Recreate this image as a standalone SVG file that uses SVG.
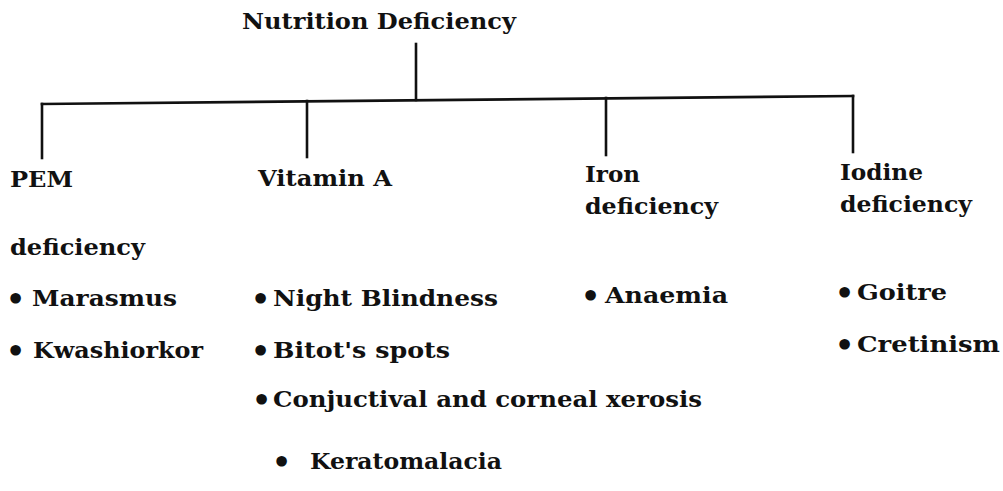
<svg xmlns="http://www.w3.org/2000/svg" width="1003" height="491" viewBox="0 0 1003 491">
<style>
.t{font-family:"DejaVu Serif","Liberation Serif",serif;font-size:23px;font-weight:bold;fill:#111}
.b{font-size:30px}
.ln{stroke:#111;stroke-width:2.6;fill:none;stroke-linecap:square}
</style>
<rect width="1003" height="491" fill="#fff"/>
<g id="connectors">
<line class="ln" x1="416" y1="44" x2="416" y2="100"/>
<line class="ln" x1="42" y1="104" x2="853" y2="96"/>
<line class="ln" x1="42" y1="104" x2="42" y2="158"/>
<line class="ln" x1="307" y1="101" x2="307" y2="157"/>
<line class="ln" x1="606" y1="98" x2="606" y2="155"/>
<line class="ln" x1="853" y1="96" x2="853" y2="152"/>
</g>
<g id="root"><text class="t" x="242" y="29" textLength="274" lengthAdjust="spacingAndGlyphs">Nutrition Deficiency</text></g>
<g id="pem">
<text class="t" x="10" y="187" textLength="63" lengthAdjust="spacingAndGlyphs">PEM</text>
<text class="t" x="10" y="255" textLength="135" lengthAdjust="spacingAndGlyphs">deficiency</text>
<text class="t" x="6" y="306"><tspan class="b" dy="3">•</tspan><tspan x="32" dy="-3" textLength="145" lengthAdjust="spacingAndGlyphs">Marasmus</tspan></text>
<text class="t" x="6" y="358"><tspan class="b" dy="3">•</tspan><tspan x="33" dy="-3" textLength="170" lengthAdjust="spacingAndGlyphs">Kwashiorkor</tspan></text>
</g>
<g id="vitamin-a">
<text class="t" x="258" y="186" textLength="134" lengthAdjust="spacingAndGlyphs">Vitamin A</text>
<text class="t" x="251" y="306"><tspan class="b" dy="3">•</tspan><tspan x="273" dy="-3" textLength="225" lengthAdjust="spacingAndGlyphs">Night Blindness</tspan></text>
<text class="t" x="251" y="358"><tspan class="b" dy="3">•</tspan><tspan x="273" dy="-3" textLength="177" lengthAdjust="spacingAndGlyphs">Bitot's spots</tspan></text>
<text class="t" x="252" y="407"><tspan class="b" dy="3">•</tspan><tspan x="273" dy="-3" textLength="429" lengthAdjust="spacingAndGlyphs">Conjuctival and corneal xerosis</tspan></text>
<text class="t" x="272" y="469"><tspan class="b" dy="3">•</tspan><tspan x="310" dy="-3" textLength="192" lengthAdjust="spacingAndGlyphs">Keratomalacia</tspan></text>
</g>
<g id="iron">
<text class="t" x="585" y="182" textLength="55" lengthAdjust="spacingAndGlyphs">Iron</text>
<text class="t" x="585" y="214" textLength="133" lengthAdjust="spacingAndGlyphs">deficiency</text>
<text class="t" x="581" y="303"><tspan class="b" dy="3">•</tspan><tspan x="605" dy="-3" textLength="123" lengthAdjust="spacingAndGlyphs">Anaemia</tspan></text>
</g>
<g id="iodine">
<text class="t" x="840" y="180" textLength="83" lengthAdjust="spacingAndGlyphs">Iodine</text>
<text class="t" x="840" y="212" textLength="132" lengthAdjust="spacingAndGlyphs">deficiency</text>
<text class="t" x="835" y="300"><tspan class="b" dy="3">•</tspan><tspan x="857" dy="-3" textLength="90" lengthAdjust="spacingAndGlyphs">Goitre</tspan></text>
<text class="t" x="835" y="352"><tspan class="b" dy="3">•</tspan><tspan x="857" dy="-3" textLength="143" lengthAdjust="spacingAndGlyphs">Cretinism</tspan></text>
</g>
</svg>
